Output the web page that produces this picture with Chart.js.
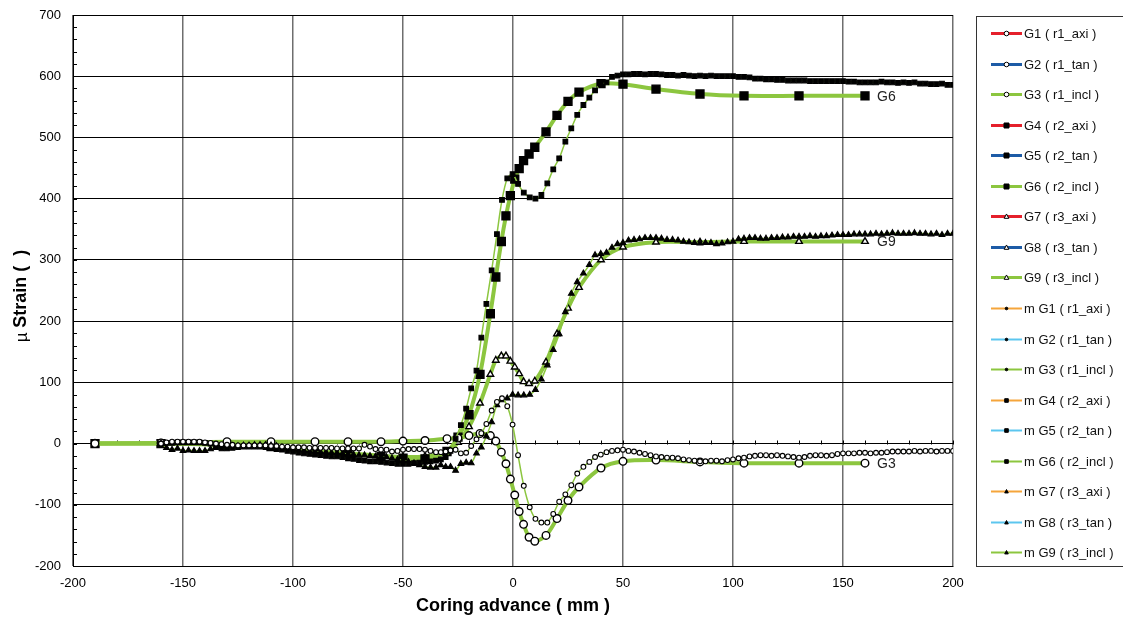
<!DOCTYPE html>
<html>
<head>
<meta charset="utf-8">
<script src="https://cdn.jsdelivr.net/npm/chart.js@4.4.1/dist/chart.umd.min.js"></script>
<style>
    html, body { margin: 0; padding: 0; background: #fff; }
    #wrap { width: 1123px; height: 621px; }
</style>
</head>
<body>
<div id="wrap"><canvas id="strainChart" width="1123" height="621"></canvas></div>
<script>
// Gauge readings (thick lines) - coring advance in mm
const gaugeX = [-190, -160, -130, -110, -90, -75, -60, -50, -40, -30, -25, -20, -15,
    -10.3, -7.8, -5.3, -3.2, -1.2, 0.8, 2.8, 4.8, 7.3, 9.9, 15, 20, 25, 30, 40, 50, 65, 85, 105, 130, 160];
const g3Strain = [0, 1, 3, 3, 3, 3, 3, 4, 5, 8, 9, 13, 16.5,
    13, 4, -14, -33, -58, -84, -111, -132, -153, -159.5, -150, -122.5, -93, -71, -40, -29, -27, -30, -32, -32, -32];
const g6Strain = [0, 0, -2, -5, -13, -17, -21, -24, -25, -13, 10.6, 47, 113,
    212, 272, 330, 372, 405, 432, 449, 462, 473, 484, 509, 536, 559, 574, 588, 587, 579, 571, 568, 568, 568];
const g9Strain = [0, 0, -2, -5, -12, -16, -20, -22, -21, -14, 2, 27.5, 66,
    113, 136, 143, 143, 134.5, 125, 114, 101, 98, 102, 133, 179, 221, 255, 300, 321, 329, 329, 330, 330, 330];

// Measured values (thin lines)
const measX = [
    -160, -157.5, -155, -152.5, -150, -147.5, -145, -142.5, -140, -137.5,
    -135, -132.5, -130, -127.5, -125, -122.5, -120, -117.5, -115, -112.5,
    -110, -107.5, -105, -102.5, -100, -97.5, -95, -92.5, -90, -87.5,
    -85, -82.5, -80, -77.5, -75, -72.5, -70, -67.5, -65, -62.5,
    -60, -57.5, -55, -52.5, -50, -47.5, -45, -42.5, -40, -37.5,
    -35,
    -32.8, -30.6, -28.4, -26.1, -23.7, -21.3, -19, -16.6, -14.4, -12.1,
    -9.7, -7.3, -5, -2.6, -0.2, 2.3, 4.9, 7.6, 10.2, 12.9,
    15.6, 18.3, 21, 23.8, 26.5, 29.2, 32, 34.7, 37.3, 39.9,
    42.5, 45, 47.5,
    50, 52.5, 55, 57.5, 60, 62.5, 65, 67.5, 70, 72.5,
    75, 77.5, 80, 82.5, 85, 87.5, 90, 92.5, 95, 97.5,
    100, 102.5, 105, 107.5, 110, 112.5, 115, 117.5, 120, 122.5,
    125, 127.5, 130, 132.5, 135, 137.5, 140, 142.5, 145, 147.5,
    150, 152.5, 155, 157.5, 160, 162.5, 165, 167.5, 170, 172.5,
    175, 177.5, 180, 182.5, 185, 187.5, 190, 192.5, 195, 197.5,
    200
];
const mG3Strain = [
    0, 2, 3, 3, 3, 3, 3, 3, 2, 1,
    0, -1, -2, -2, -3, -3, -3, -3, -3, -3,
    -4, -4, -5, -5, -6, -6, -6, -7, -7, -7,
    -7, -7, -8, -8, -8, -8, -8, -2, -5, -9,
    -10, -10, -13, -12, -10, -9, -9, -9, -10, -12,
    -14,
    -14, -13, -11, -10, -16, -15, -4, 7, 17, 32,
    54, 68, 74, 61, 31, -19, -69, -104, -123, -129,
    -129, -115, -95, -83, -68, -49, -38, -30, -22, -18,
    -14, -12, -11,
    -10, -12, -13, -15, -17, -19, -21, -22, -23, -23,
    -24, -26, -27, -28, -29, -29, -28, -28, -29, -27,
    -26, -24, -23, -21, -20, -19, -19, -20, -19, -20,
    -21, -22, -23, -22, -20, -19, -19, -20, -19, -17,
    -16, -16, -16, -15, -15, -16, -15, -15, -14, -13,
    -13, -13, -13, -12, -13, -12, -12, -13, -12, -12,
    -12
];
const mG6Strain = [
    0, 1, 1, 2, 2, 2, 2, 2, 1, 0,
    -6, -8, -8, -7, -6, -5, -5, -5, -5, -6,
    -7, -9, -10, -12, -13, -15, -16, -17, -18, -19,
    -20, -21, -21, -22, -24, -25, -27, -28, -29, -29,
    -30, -31, -32, -33, -33, -33, -32, -31, -30, -29,
    -28,
    -26, -22, -12, 8, 30, 57, 90, 119, 173, 228,
    283, 342, 398, 433, 440, 424, 410, 402, 400, 406,
    425, 448, 466, 493, 515, 537, 553, 565, 577, 587,
    590, 599, 601,
    603, 603, 604, 604, 603, 604, 604, 603, 602, 602,
    601, 602, 601, 600, 601, 600, 601, 600, 600, 600,
    600, 599, 599, 598, 596, 596, 595, 595, 594, 594,
    593, 593, 593, 593, 592, 592, 592, 592, 592, 592,
    592, 591, 591, 590, 590, 590, 590, 591, 590, 590,
    589, 590, 589, 590, 588, 588, 587, 587, 588, 586,
    586
];
const mG9Strain = [
    0, -7, -10, -8, -12, -11, -12, -12, -12, -9,
    -6, -5, -5, -4, -4, -3, -3, -2, -2, -2,
    -3, -4, -6, -8, -10, -11, -12, -13, -13, -14,
    -14, -15, -15, -16, -17, -18, -19, -19, -20, -21,
    -21, -22, -24, -26, -28, -30, -32, -35, -38, -39,
    -39,
    -35, -38, -38, -44, -33, -31, -32, -16, -6, 12,
    35, 63, 71, 74, 80, 79, 79, 80, 88, 105,
    128, 153, 179, 215, 245, 264, 278, 292, 308, 310,
    312, 320, 326,
    328, 332, 333, 334, 336, 336, 336, 335, 333, 333,
    332, 330, 329, 328, 327, 328, 328, 326, 327, 329,
    330, 334, 335, 336, 336, 335, 335, 336, 336, 337,
    337, 338, 338, 338, 339, 338, 339, 339, 340, 341,
    341, 341, 342, 342, 342, 342, 343, 342, 343, 344,
    343, 343, 343, 344, 343, 343, 342, 343, 341, 343,
    343
];

const gaugeNames = ['G1 ( r1_axi )', 'G2 ( r1_tan )', 'G3 ( r1_incl )', 'G4 ( r2_axi )', 'G5 ( r2_tan )',
    'G6 ( r2_incl )', 'G7 ( r3_axi )', 'G8 ( r3_tan )', 'G9 ( r3_incl )'];
const endLabels = { 2: 'G3', 5: 'G6', 8: 'G9' };

const FONT = '"Liberation Sans", Arial, sans-serif';
const GREEN = '#8cc63f';
const gaugeColors = ['#e5202b', '#1d5ba6', GREEN];
const measColors = ['#f5a53b', '#5cc6ef', GREEN];
const markers = ['circle', 'rect', 'triangle'];

const toPoints = (xs, ys) => xs.map((x, i) => ({ x, y: ys[i] }));

const gaugeData = { 2: toPoints(gaugeX, g3Strain), 5: toPoints(gaugeX, g6Strain), 8: toPoints(gaugeX, g9Strain) };
const measData = { 2: toPoints(measX, mG3Strain), 5: toPoints(measX, mG6Strain), 8: toPoints(measX, mG9Strain) };

const datasets = [];
gaugeNames.forEach((name, i) => {
    const mk = markers[Math.floor(i / 3)];
    datasets.push({
        label: name, data: gaugeData[i] || [], thick: true, marker: mk,
        borderColor: gaugeColors[i % 3], borderWidth: 4, tension: 0.3, order: 2,
        pointStyle: mk, pointRadius: mk === 'rect' ? 5.6 : 3.8,
        pointBackgroundColor: mk === 'rect' ? '#000' : '#fff', pointBorderColor: '#000', pointBorderWidth: 1.4
    });
});
gaugeNames.forEach((name, i) => {
    const mk = markers[Math.floor(i / 3)];
    datasets.push({
        label: 'm ' + name, data: measData[i] || [], thick: false, marker: mk,
        borderColor: measColors[i % 3], borderWidth: 1.5, tension: 0.3, order: 1,
        pointStyle: mk, pointRadius: mk === 'circle' ? 2.4 : 3.3,
        pointBackgroundColor: mk === 'circle' ? '#fff' : '#000', pointBorderColor: '#000', pointBorderWidth: 1.1
    });
});

function drawMarker(ctx, style, x, y, size, fill) {
    ctx.beginPath();
    if (style === 'circle') {
        ctx.arc(x, y, size, 0, Math.PI * 2);
    } else if (style === 'rect') {
        ctx.rect(x - size, y - size, size * 2, size * 2);
    } else {
        ctx.moveTo(x, y - size * 1.1);
        ctx.lineTo(x + size, y + size * 0.8);
        ctx.lineTo(x - size, y + size * 0.8);
        ctx.closePath();
    }
    ctx.fillStyle = fill;
    ctx.fill();
    ctx.lineWidth = 1;
    ctx.strokeStyle = '#000';
    ctx.stroke();
}

const decorPlugin = {
    id: 'decor',
    beforeDatasetsDraw(chart) {
        const { ctx, chartArea: a, scales: { x, y } } = chart;
        ctx.save();
        ctx.strokeStyle = '#000';
        ctx.lineWidth = 1;
        const y0 = Math.round(y.getPixelForValue(0)) + 0.5;
        ctx.beginPath();
        for (let v = -200; v <= 200; v += 10) {
            const px = Math.round(x.getPixelForValue(v)) + 0.5;
            ctx.moveTo(px, y0);
            ctx.lineTo(px, y0 - 4);
        }
        for (let v = -200; v <= 700; v += 20) {
            const py = Math.round(y.getPixelForValue(v)) + 0.5;
            ctx.moveTo(a.left, py);
            ctx.lineTo(a.left + 4, py);
        }
        ctx.stroke();
        ctx.restore();
    },
    afterDraw(chart) {
        const { ctx, chartArea: a } = chart;
        ctx.save();

        // y axis title: regular mu, bold rest
        ctx.translate(21, 296);
        ctx.rotate(-Math.PI / 2);
        ctx.textBaseline = 'middle';
        ctx.fillStyle = '#000';
        const muPart = 'µ ';
        const boldPart = 'Strain (  )';
        ctx.font = '17px ' + FONT;
        const wMu = ctx.measureText(muPart).width;
        ctx.font = 'bold 18px ' + FONT;
        const wBold = ctx.measureText(boldPart).width;
        const start = -(wMu + wBold) / 2;
        ctx.font = '17px ' + FONT;
        ctx.fillText(muPart, start, 1);
        ctx.font = 'bold 18px ' + FONT;
        ctx.fillText(boldPart, start + wMu, 0);
        ctx.setTransform(1, 0, 0, 1, 0, 0);

        // end-of-curve labels
        ctx.font = '14px ' + FONT;
        ctx.fillStyle = '#222';
        ctx.textBaseline = 'middle';
        Object.keys(endLabels).forEach((i) => {
            const meta = chart.getDatasetMeta(Number(i));
            const last = meta.data[meta.data.length - 1];
            if (last) ctx.fillText(endLabels[i], last.x + 12, last.y + 1);
        });

        // legend box
        const left = a.right + 23;
        const top = a.top + 1;
        const bottom = a.bottom;
        ctx.strokeStyle = '#333';
        ctx.lineWidth = 1;
        ctx.strokeRect(left + 0.5, top + 0.5, 220, bottom - top);
        const step = 30.55;
        ctx.font = '13px ' + FONT;
        chart.data.datasets.forEach((ds, i) => {
            const ly = Math.round(top + 17 + i * step) + 0.5;
            ctx.strokeStyle = ds.borderColor;
            ctx.lineWidth = ds.thick ? 3 : 2;
            ctx.beginPath();
            ctx.moveTo(left + 15, ly);
            ctx.lineTo(left + 46, ly);
            ctx.stroke();
            const cx = left + 30.5;
            if (ds.thick) {
                if (ds.marker === 'rect') drawMarker(ctx, 'rect', cx, ly, 2.5, '#000');
                else drawMarker(ctx, ds.marker, cx, ly, 2.3, '#fff');
            } else {
                drawMarker(ctx, ds.marker, cx, ly, ds.marker === 'circle' ? 1.3 : 1.8, '#000');
            }
            ctx.fillStyle = '#111';
            ctx.fillText(ds.label, left + 48, ly + 1);
        });
        ctx.restore();
    }
};

new Chart(document.getElementById('strainChart'), {
    type: 'line',
    data: { datasets },
    options: {
        responsive: false,
        animation: false,
        devicePixelRatio: 1,
        layout: { padding: { top: 15, right: 170, left: 0, bottom: 0 } },
        plugins: { legend: { display: false }, tooltip: { enabled: false } },
        elements: { line: { fill: false } },
        scales: {
            x: {
                type: 'linear', min: -200, max: 200,
                afterFit: (s) => { s.height = 55; s.paddingLeft = 0; s.paddingRight = 0; },
                ticks: { stepSize: 50, padding: 10, color: '#000', font: { size: 13, family: FONT } },
                grid: { color: '#6e6e6e', lineWidth: 1.5, drawTicks: false },
                border: { display: true, color: '#000', width: 1 },
                title: { display: true, text: 'Coring advance ( mm )', color: '#000', padding: { top: 0, bottom: 4 },
                    font: { size: 18, weight: 'bold', family: FONT } }
            },
            y: {
                type: 'linear', min: -200, max: 700,
                afterFit: (s) => { s.width = 73; s.paddingTop = 0; s.paddingBottom = 0; },
                ticks: { stepSize: 100, padding: 12, color: '#000', font: { size: 13, family: FONT } },
                grid: { color: '#000', lineWidth: 1, drawTicks: false },
                border: { display: true, color: '#000', width: 1 }
            }
        }
    },
    plugins: [decorPlugin]
});
</script>
</body>
</html>
